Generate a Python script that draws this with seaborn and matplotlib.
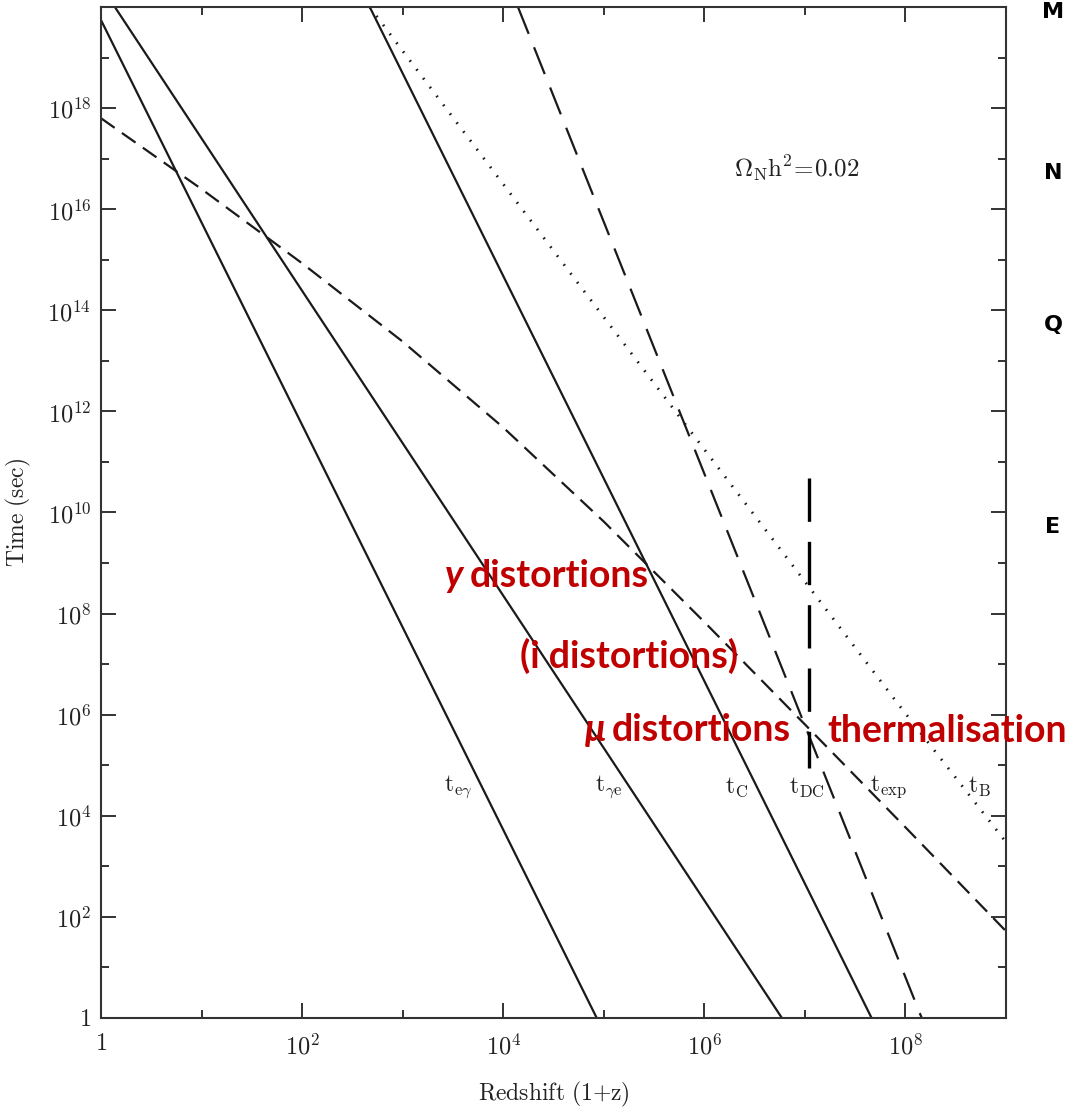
import matplotlib
matplotlib.use("Agg")
import matplotlib.pyplot as plt
import matplotlib.ticker as mticker
import numpy as np
import seaborn as sns

# timescales (x = 1+z, y = time in sec)
z_eg = [1.0, 8.5e4]
t_eg = [5.5e19, 1.0]

z_ge = [1.0, 5.9e6]
t_ge = [2.6e20, 1.0]

z_c = [4.7e2, 4.6e7]
t_c = [1.0e20, 1.0]

z_dc = [1.4e4, 1.45e8]
t_dc = [1.0e20, 1.0]

z_exp = [1.0, 1e1, 1e2, 1e3, 1e4, 1e5, 1e6, 1e7, 1e8, 1e9]
t_exp = [6.3e17, 2.5e16, 8.5e14, 2.4e13, 4.8e11, 6.6e9, 6.8e7, 6.4e5,
         5.9e3, 52]

z_b = [4.7e2, 1.0e3, 5.5e4, 1.7e6, 8.3e7, 1.0e9]
t_b = [1.0e20, 1.35e19, 3.5e14, 4.4e10, 1.7e6, 3.0e3]

# thermalisation redshift marker
z_th = [1.1e7, 1.1e7]
t_th = [4.8e10, 8.9e4]

curve_names = [r"$\mathrm{t}_{\mathrm{e}\gamma}$", r"$\mathrm{t}_{\gamma\mathrm{e}}$",
               r"$\mathrm{t}_{\mathrm{C}}$", r"$\mathrm{t}_{\mathrm{DC}}$",
               r"$\mathrm{t}_{\mathrm{exp}}$", r"$\mathrm{t}_{\mathrm{B}}$"]
name_z = [3.6e3, 1.12e5, 2.1e6, 1.05e7, 6.8e7, 5.5e8]
name_t = 3.7e4

x_major = [1, 1e2, 1e4, 1e6, 1e8]
x_minor = [1e1, 1e3, 1e5, 1e7, 1e9]
y_major = [1, 1e2, 1e4, 1e6, 1e8, 1e10, 1e12, 1e14, 1e16, 1e18]
y_minor = [1e1, 1e3, 1e5, 1e7, 1e9, 1e11, 1e13, 1e15, 1e17, 1e19]

side_letters = ["M", "N", "Q", "E"]
RED = "#C00000"


def log_label(v, pos):
    n = int(round(np.log10(v)))
    return "$1$" if n == 0 else "$10^{%d}$" % n


sns.set_style("ticks")
plt.rcParams["mathtext.fontset"] = "cm"
plt.rcParams["font.family"] = ["Lato", "DejaVu Sans"]

fig = plt.figure(figsize=(10.68, 11.14), dpi=100)
ax = fig.add_axes([0.0946, 0.0862, 0.8474, 0.9075])
ax.set(xscale="log", yscale="log")

lw = 1.6
line_kw = dict(ax=ax, color="#1a1a1a", estimator=None, sort=False, legend=False)
sns.lineplot(x=z_eg, y=t_eg, lw=lw, **line_kw)
sns.lineplot(x=z_ge, y=t_ge, lw=lw, **line_kw)
sns.lineplot(x=z_c, y=t_c, lw=lw, **line_kw)
sns.lineplot(x=z_dc, y=t_dc, lw=lw, linestyle=(0, (13, 6.5)), **line_kw)
sns.lineplot(x=z_exp, y=t_exp, lw=lw, linestyle=(0, (7.5, 4)), **line_kw)
sns.lineplot(x=z_b, y=t_b, lw=2.0, linestyle=(0, (0.6, 3.4)), **line_kw)
sns.lineplot(x=z_th, y=t_th, lw=2.4, linestyle=(0, (13, 6)),
             ax=ax, color="black", estimator=None, sort=False, legend=False)

ax.set_xlim(1, 1e9)
ax.set_ylim(1, 1e20)
ax.xaxis.set_major_locator(mticker.FixedLocator(x_major))
ax.xaxis.set_minor_locator(mticker.FixedLocator(x_minor))
ax.yaxis.set_major_locator(mticker.FixedLocator(y_major))
ax.yaxis.set_minor_locator(mticker.FixedLocator(y_minor))
ax.xaxis.set_major_formatter(mticker.FuncFormatter(log_label))
ax.yaxis.set_major_formatter(mticker.FuncFormatter(log_label))
ax.xaxis.set_minor_formatter(mticker.NullFormatter())
ax.yaxis.set_minor_formatter(mticker.NullFormatter())
ax.tick_params(which="both", direction="in", top=True, right=True,
               color="#333333", width=1.4, labelsize=17.5, labelcolor="#222222")
ax.tick_params(which="major", length=11)
ax.tick_params(which="minor", length=5.5)
ax.tick_params(axis="x", pad=11)
ax.tick_params(axis="y", pad=7)
for sp in ax.spines.values():
    sp.set_color("#333333")
    sp.set_linewidth(1.5)

ax.set_xlabel(r"$\mathrm{Redshift\ (1{+}z)}$", fontsize=17, color="#222222",
              labelpad=15)
ax.set_ylabel(r"$\mathrm{Time\ (sec)}$", fontsize=17, color="#222222",
              labelpad=10)

for name, zx in zip(curve_names, name_z):
    ax.text(zx, name_t, name, fontsize=17, ha="center", va="center",
            color="#222222")
ax.text(8.3e6, 6.6e16, r"$\Omega_{\mathrm{N}}\mathrm{h}^2\!=\!0.02$",
        fontsize=18, ha="center", va="center", color="#222222")

# red region labels
red_kw = dict(color=RED, fontsize=27, fontweight="bold", va="baseline",
              clip_on=False)
ax.text(3.98e3, 3.4e8, "y", ha="right", style="italic", **red_kw)
ax.text(4.65e3, 3.4e8, "distortions", ha="left", **red_kw)
ax.text(1.46e4, 8.3e6, "(i distortions)", ha="left", **red_kw)
ax.text(1.05e5, 3.0e5, "\u03bc", ha="right", style="italic", **red_kw)
ax.text(1.2e5, 3.0e5, "distortions", ha="left", **red_kw)
ax.text(1.66e7, 2.9e5, "thermalisation", ha="left", **red_kw)

for letter, ypx in zip(side_letters, [12, 173, 325, 527]):
    fig.text(1053 / 1068, 1 - ypx / 1114, letter, ha="center", va="center",
             fontsize=16, fontweight="heavy", family="DejaVu Sans",
             color="black")

fig.savefig("out.png", dpi=100)
